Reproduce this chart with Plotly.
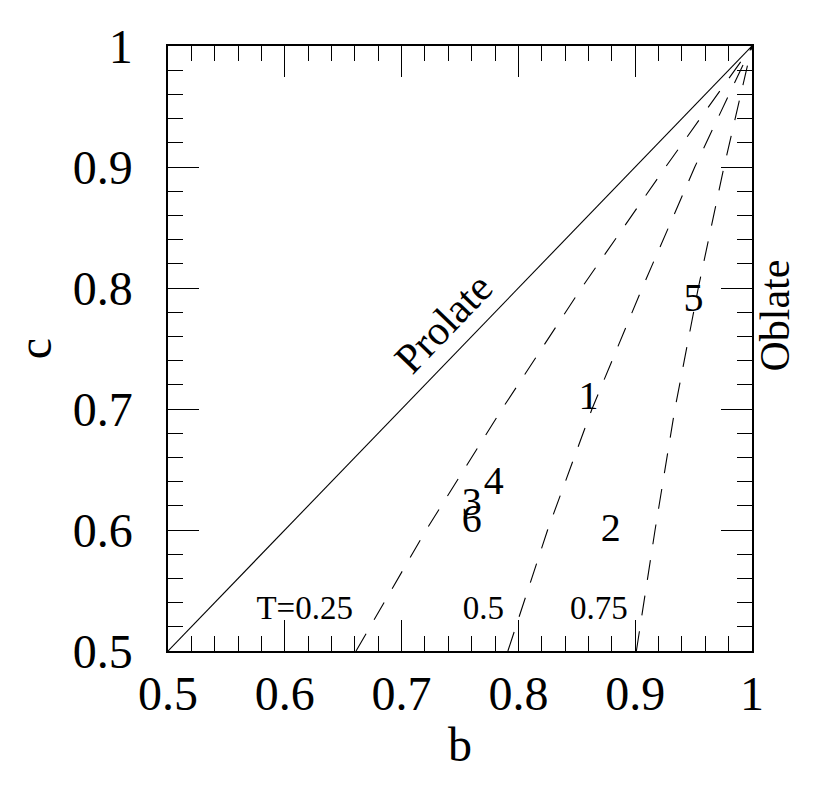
import plotly.graph_objects as go

# prolate line c = b
prolate_b = [0.5, 1.0]
prolate_c = [0.5, 1.0]

# dashed lines of constant triaxiality
dash_c = [0.5, 0.6, 0.7, 0.8, 0.9, 1.0]
dash_left_b = [0.661, 0.721, 0.786, 0.854, 0.926, 1.0]
dash_mid_b = [0.791, 0.825, 0.863, 0.906, 0.951, 1.0]
dash_right_b = [0.901, 0.917, 0.934, 0.954, 0.976, 1.0]

# numbered objects
obj_labels = ["1", "2", "3", "4", "5", "6"]
obj_b = [0.860, 0.879, 0.760, 0.779, 0.950, 0.760]
obj_c = [0.708, 0.599, 0.621, 0.638, 0.789, 0.607]

# T labels
t_labels = ["T=0.25", "0.5", "0.75"]
t_b = [0.617, 0.770, 0.869]
t_c = [0.533, 0.533, 0.533]

FONT = "Liberation Serif"

fig = go.Figure()

fig.add_trace(
    go.Scatter(
        x=prolate_b,
        y=prolate_c,
        mode="lines",
        line=dict(color="black", width=1.1),
        showlegend=False
    )
)

for bb in [dash_left_b, dash_mid_b, dash_right_b]:
    fig.add_trace(
        go.Scatter(
            x=bb,
            y=dash_c,
            mode="lines",
            line=dict(color="black", width=1.1, dash="20px,16px"),
            showlegend=False
        )
    )

fig.add_trace(
    go.Scatter(
        x=obj_b,
        y=obj_c,
        mode="text",
        text=obj_labels,
        textfont=dict(family=FONT, size=40, color="black"),
        showlegend=False
    )
)

fig.add_trace(
    go.Scatter(
        x=t_b,
        y=t_c,
        mode="text",
        text=t_labels,
        textfont=dict(family=FONT, size=33, color="black"),
        showlegend=False
    )
)

# Prolate / Oblate labels
fig.add_annotation(
    x=0.736, y=0.771, text="Prolate", showarrow=False, textangle=-46,
    font=dict(family=FONT, size=42, color="black")
)
fig.add_annotation(
    x=1.039, y=0.777, xref="paper", xanchor="center", yanchor="middle",
    text="Oblate", showarrow=False, textangle=-90,
    font=dict(family=FONT, size=42, color="black")
)

axis_common = dict(
    range=[0.5, 1.0],
    dtick=0.1,
    tick0=0.5,
    ticks="inside",
    ticklen=31,
    tickwidth=1.2,
    tickcolor="black",
    minor=dict(dtick=0.02, ticks="inside", ticklen=15, tickwidth=1.2, tickcolor="black"),
    showline=True,
    linecolor="black",
    linewidth=1.5,
    mirror="allticks",
    showgrid=False,
    zeroline=False,
    tickfont=dict(family=FONT, size=48, color="black"),
)

fig.update_xaxes(
    **axis_common,
    title=dict(text="b", font=dict(family=FONT, size=48, color="black"), standoff=8)
)
fig.update_yaxes(
    **axis_common,
    ticklabelstandoff=24,
    title=dict(text="c", font=dict(family=FONT, size=48, color="black"), standoff=16)
)

fig.update_layout(
    width=830,
    height=800,
    margin=dict(l=160, r=86, t=32, b=157),
    plot_bgcolor="white",
    paper_bgcolor="white",
)

fig.write_html("out.html")
